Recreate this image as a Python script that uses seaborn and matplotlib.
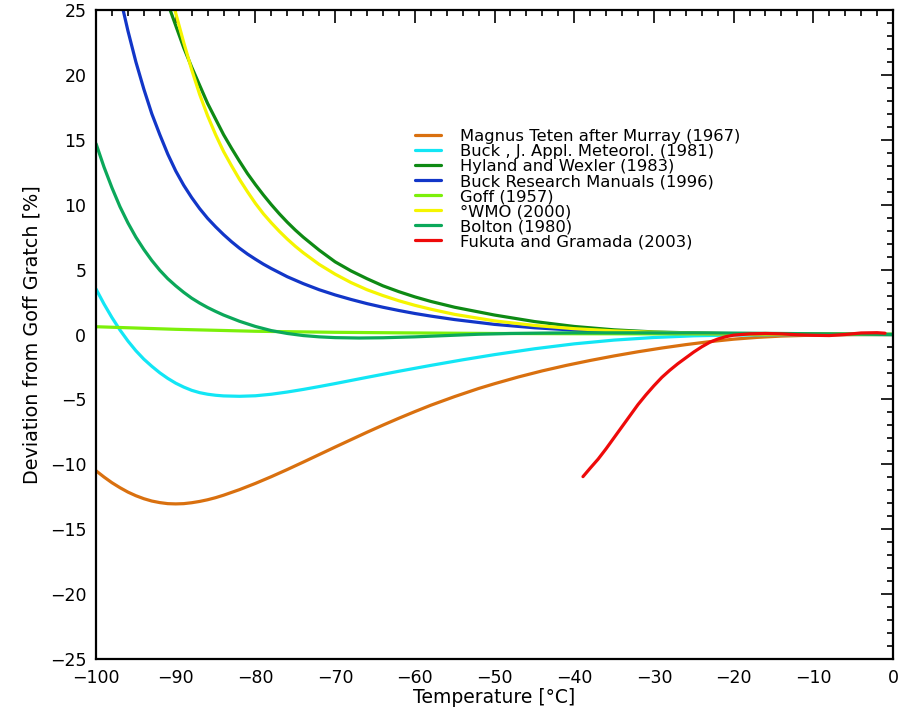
import matplotlib

matplotlib.use("Agg")
import matplotlib.pyplot as plt
import pandas as pd
import seaborn as sns
from matplotlib.ticker import MultipleLocator

# values (deviation from Goff-Gratch, %)
magnus_t = [-100, -99, -98, -97, -96, -95, -94, -93, -92, -91, -90, -89, -88, -87, -86, -85, -84,
            -82, -80, -78, -76, -74, -72, -70, -68, -66, -64, -62, -60, -58, -55, -52, -50, -47,
            -44, -41, -38, -35, -32, -29, -26, -23, -20, -17, -14, -10, -5, 0]
magnus_dev = [-10.5, -10.98, -11.42, -11.8, -12.14, -12.42, -12.65, -12.83, -12.95, -13.03, -13.05,
              -13.03, -12.96, -12.86, -12.73, -12.57, -12.38, -11.95, -11.47, -10.95, -10.4, -9.83,
              -9.25, -8.67, -8.1, -7.53, -6.98, -6.45, -5.94, -5.45, -4.78, -4.16, -3.79, -3.27,
              -2.8, -2.38, -2.0, -1.65, -1.33, -1.04, -0.78, -0.55, -0.36, -0.22, -0.12, -0.05,
              -0.01, 0.0]

buck81_t = [-100, -99, -98, -97, -96, -95, -94, -93, -92, -91, -90, -89, -88, -87, -86, -85, -84,
            -82, -80, -78, -76, -74, -72, -70, -66, -62, -58, -54, -50, -45, -40, -35, -30, -25,
            -20, -10, 0]
buck81_dev = [3.5, 2.35, 1.3, 0.35, -0.5, -1.25, -1.9, -2.45, -2.95, -3.38, -3.75, -4.05, -4.3,
              -4.48, -4.6, -4.68, -4.73, -4.76, -4.72, -4.6, -4.43, -4.23, -4.01, -3.78, -3.3,
              -2.83, -2.38, -1.95, -1.55, -1.1, -0.72, -0.43, -0.23, -0.1, -0.04, 0.0, 0.0]

hyland_t = [-90.7, -90, -89, -88, -87, -86, -85, -84, -83, -82, -81, -80, -79, -78, -77, -76, -75,
            -74, -72, -70, -68, -66, -64, -62, -60, -58, -55, -50, -45, -40, -35, -30, -25, -20,
            -10, 0]
hyland_dev = [25.0, 23.8, 22.1, 20.6, 19.2, 17.8, 16.6, 15.4, 14.35, 13.35, 12.4, 11.55, 10.75,
              10.0, 9.3, 8.65, 8.05, 7.5, 6.5, 5.6, 4.9, 4.3, 3.75, 3.3, 2.9, 2.55, 2.1, 1.5, 1.0,
              0.62, 0.36, 0.2, 0.12, 0.07, 0.03, 0.0]

buck96_t = [-96.6, -96, -95, -94, -93, -92, -91, -90, -89, -88, -87, -86, -85, -84, -83, -82, -81,
            -80, -79, -78, -76, -74, -72, -70, -68, -66, -64, -62, -60, -58, -55, -50, -45, -40,
            -35, -30, -25, -20, -10, 0]
buck96_dev = [25.0, 23.4, 21.0, 18.9, 17.0, 15.4, 13.9, 12.6, 11.5, 10.55, 9.7, 8.95, 8.3, 7.7,
              7.15, 6.65, 6.2, 5.8, 5.42, 5.08, 4.45, 3.92, 3.45, 3.05, 2.7, 2.38, 2.1, 1.85, 1.62,
              1.42, 1.15, 0.78, 0.52, 0.34, 0.22, 0.14, 0.09, 0.06, 0.02, 0.0]

goff_t = [-100, -90, -80, -70, -60, -50, -40, -30, -20, -10, 0]
goff_dev = [0.6, 0.4, 0.25, 0.17, 0.12, 0.08, 0.06, 0.05, 0.04, 0.03, 0.02]

wmo_t = [-90.1, -90, -89, -88, -87, -86, -85, -84, -83, -82, -81, -80, -79, -78, -77, -76, -75,
         -74, -72, -70, -68, -66, -64, -62, -60, -58, -55, -50, -45, -40, -35, -30, -25, -20,
         -10, 0]
wmo_dev = [25.0, 24.75, 22.5, 20.4, 18.5, 16.85, 15.4, 14.1, 13.0, 11.95, 11.0, 10.1, 9.3, 8.6,
           7.95, 7.35, 6.8, 6.3, 5.4, 4.65, 4.0, 3.45, 3.0, 2.6, 2.25, 1.95, 1.55, 1.05, 0.7,
           0.45, 0.28, 0.17, 0.1, 0.06, 0.02, 0.0]

bolton_t = [-100, -99, -98, -97, -96, -95, -94, -93, -92, -91, -90, -89, -88, -87, -86, -85, -84,
            -82, -80, -78, -76, -74, -72, -70, -67, -64, -60, -56, -52, -48, -44, -40, -30, -20,
            -10, 0]
bolton_dev = [14.7, 12.9, 11.3, 9.85, 8.6, 7.5, 6.55, 5.7, 4.95, 4.3, 3.75, 3.25, 2.8, 2.42, 2.08,
              1.78, 1.5, 1.02, 0.62, 0.3, 0.08, -0.08, -0.18, -0.24, -0.27, -0.25, -0.18, -0.08,
              0.02, 0.08, 0.11, 0.13, 0.13, 0.11, 0.06, 0.0]

fukuta_t = [-38.9, -38, -37, -36, -35, -34, -33, -32, -31, -30, -29, -28, -27, -26, -25, -24,
            -23, -22, -21, -20, -18, -16, -14, -12, -10, -8, -6, -4, -2, -1]
fukuta_dev = [-10.95, -10.3, -9.6, -8.8, -7.95, -7.1, -6.25, -5.4, -4.65, -3.95, -3.3, -2.75,
              -2.25, -1.8, -1.35, -0.95, -0.6, -0.35, -0.17, -0.05, 0.05, 0.08, 0.05, -0.02,
              -0.06, -0.08, 0.0, 0.12, 0.14, 0.1]

labels = [
    "Magnus Teten after Murray (1967)",
    "Buck , J. Appl. Meteorol. (1981)",
    "Hyland and Wexler (1983)",
    "Buck Research Manuals (1996)",
    "Goff (1957)",
    "°WMO (2000)",
    "Bolton (1980)",
    "Fukuta and Gramada (2003)",
]
colors = ["#D9700F", "#12E6F5", "#0E8A14", "#1236C8", "#7CF00A", "#F5F500", "#0BA85A", "#EE0A0A"]
series = [
    (magnus_t, magnus_dev), (buck81_t, buck81_dev), (hyland_t, hyland_dev), (buck96_t, buck96_dev),
    (goff_t, goff_dev), (wmo_t, wmo_dev), (bolton_t, bolton_dev), (fukuta_t, fukuta_dev),
]

sns.set_theme(style="white")
plt.rcParams["font.family"] = ["DejaVu Sans"]
plt.rcParams["axes.unicode_minus"] = True
plt.rcParams["text.color"] = "black"
plt.rcParams["axes.labelcolor"] = "black"

fig, ax = plt.subplots(figsize=(9.01, 7.15), dpi=100)
fig.subplots_adjust(left=0.1066, right=0.9911, top=0.986, bottom=0.0783)

for (t, dev), label, color in zip(series, labels, colors):
    df = pd.DataFrame({"t": t, "dev": dev})
    sns.lineplot(data=df, x="t", y="dev", color=color, linewidth=2.3, label=label,
                 sort=False, estimator=None, ax=ax)

ax.set_xlim(-100, 0)
ax.set_ylim(-25, 25)
ax.xaxis.set_major_locator(MultipleLocator(10))
ax.xaxis.set_minor_locator(MultipleLocator(2))
ax.yaxis.set_major_locator(MultipleLocator(5))
ax.yaxis.set_minor_locator(MultipleLocator(1))
ax.tick_params(which="both", direction="in", top=True, right=True, colors="black",
               labelsize=12.5, width=1.2)
ax.tick_params(which="major", length=9, pad=7)
ax.tick_params(which="minor", length=4.5)
for sp in ax.spines.values():
    sp.set_color("black")
    sp.set_linewidth(1.6)

ax.set_xlabel("Temperature [°C]", fontsize=13.5, labelpad=1, color="black")
ax.set_ylabel("Deviation from Goff Gratch [%]", fontsize=13.8, labelpad=6, color="black")

# legend rows kept just touching: the original packs them a little tighter still
leg = ax.legend(loc="upper left", bbox_to_anchor=(0.39, 0.829), frameon=False, fontsize=11.8,
                handlelength=1.6, handletextpad=1.15, labelspacing=0.0, borderpad=0)
for txt in leg.get_texts():
    txt.set_color("black")

fig.savefig("out.png", dpi=100)
